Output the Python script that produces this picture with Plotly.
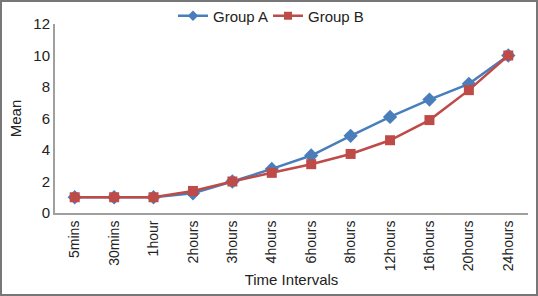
import plotly.graph_objects as go

categories = ["5mins", "30mins", "1hour", "2hours", "3hours", "4hours",
              "6hours", "8hours", "12hours", "16hours", "20hours", "24hours"]
group_a = [1.0, 1.0, 1.0, 1.25, 2.0, 2.8, 3.65, 4.9, 6.1, 7.2, 8.2, 10.0]
group_b = [1.0, 1.0, 1.0, 1.4, 2.0, 2.55, 3.1, 3.75, 4.62, 5.9, 7.8, 10.0]
y_ticks = [0, 2, 4, 6, 8, 10, 12]

W, H = 538, 296
L, R, T, B = 55, 10, 24, 83
pw, ph = W - L - R, H - T - B

BLUE, RED = "#4A7EBB", "#BE4B48"

fig = go.Figure()
fig.add_trace(go.Scatter(x=categories, y=group_a, mode="lines+markers", name="Group A",
                         showlegend=False,
                         line=dict(color=BLUE, width=2.5),
                         marker=dict(symbol="diamond", size=11, color=BLUE)))
fig.add_trace(go.Scatter(x=categories, y=group_b, mode="lines+markers", name="Group B",
                         showlegend=False,
                         line=dict(color=RED, width=2.5),
                         marker=dict(symbol="square", size=10, color=RED)))
# legend entries (smaller symbols, as in the reference)
fig.add_trace(go.Scatter(x=[None], y=[None], mode="lines+markers", name="Group A",
                         legend="legend",
                         line=dict(color=BLUE, width=2.5),
                         marker=dict(symbol="diamond", size=8, color=BLUE)))
fig.add_trace(go.Scatter(x=[None], y=[None], mode="lines+markers", name="Group B",
                         legend="legend2",
                         line=dict(color=RED, width=2.5),
                         marker=dict(symbol="square", size=8, color=RED)))

leg_common = dict(orientation="h", xanchor="left", y=(H - B - 16) / ph, yanchor="middle",
                  font=dict(size=15), bgcolor="rgba(0,0,0,0)", borderwidth=0)

fig.update_layout(
    width=W, height=H,
    margin=dict(l=L, r=R, t=T, b=B, autoexpand=False),
    paper_bgcolor="white", plot_bgcolor="white",
    font=dict(family="Liberation Sans, Arial, sans-serif", size=15, color="#222"),
    legend=dict(x=(173 - L) / pw, **leg_common),
    legend2=dict(x=(268 - L) / pw, **leg_common),
    xaxis=dict(type="category", tickangle=-90, showgrid=False, showline=True,
               linecolor="#A0A0A0", linewidth=2, ticks="", tickfont=dict(size=14),
               automargin=False,
               title=dict(text="Time Intervals", font=dict(size=15), standoff=4),
               range=[-0.5, len(categories) - 0.5]),
    yaxis=dict(range=[0, 12], tickvals=y_ticks, showgrid=False, showline=True,
               linecolor="#A0A0A0", linewidth=2, ticks="", tickfont=dict(size=15),
               zeroline=False, automargin=False,
               title=dict(text="Mean", font=dict(size=15), standoff=8)),
    shapes=[dict(type="rect", xref="paper", yref="paper",
                 x0=(1 - L) / pw, x1=(W - 1 - L) / pw,
                 y0=(H - B - (H - 1)) / ph, y1=(H - B - 1) / ph,
                 line=dict(color="#777", width=2), fillcolor="rgba(0,0,0,0)", layer="above")],
)

fig.write_html("out.html", config={"displayModeBar": False},
               post_script="document.body.style.margin='0px';")
